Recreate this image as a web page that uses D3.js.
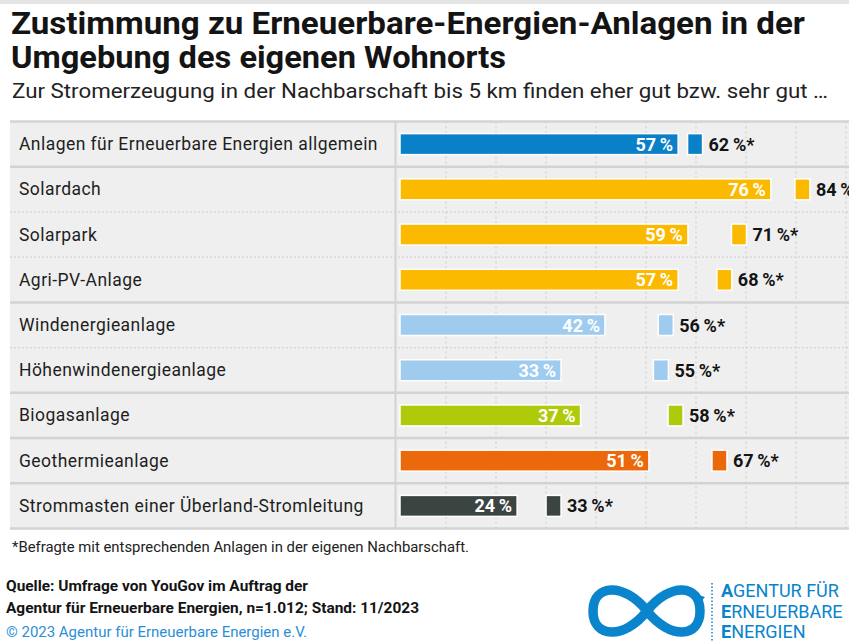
<!DOCTYPE html>
<html>
<head>
<meta charset="utf-8">
<script src="https://cdn.jsdelivr.net/npm/d3@7"></script>
<style>
  body { margin: 0; background: #fff; }
  svg { display: block; font-family: Roboto, "Noto Sans", sans-serif; }
</style>
</head>
<body>
<div id="chart"></div>
<script>
// data
const categories = [
  'Anlagen für Erneuerbare Energien allgemein',
  'Solardach',
  'Solarpark',
  'Agri-PV-Anlage',
  'Windenergieanlage',
  'Höhenwindenergieanlage',
  'Biogasanlage',
  'Geothermieanlage',
  'Strommasten einer Überland-Stromleitung'
];
const allValues = [57, 76, 59, 57, 42, 33, 37, 51, 24];          // alle Befragten
const neighbourValues = [62, 84, 71, 68, 56, 55, 58, 67, 33];    // mit Anlagen in der Nachbarschaft*
const groups = [0, 1, 1, 1, 2, 2, 3, 4, 5];
const colors = ['#0a80c8', '#fbba00', '#fbba00', '#fbba00', '#9ecbee', '#9ecbee', '#afca0b', '#eb690b', '#3c4441'];

const W = 849, H = 641;
const svg = d3.select('#chart').append('svg')
  .attr('width', W)
  .attr('height', H);

// top strip
svg.append('rect').attr('x', 0).attr('y', 0).attr('width', W).attr('height', 4).attr('fill', '#e4e4e4');

// titles
svg.append('text').attr('x', 11).attr('y', 34)
  .attr('font-size', 31).attr('font-weight', 700).attr('fill', '#141414')
  .attr('textLength', 794).attr('lengthAdjust', 'spacingAndGlyphs')
  .text('Zustimmung zu Erneuerbare-Energien-Anlagen in der');
svg.append('text').attr('x', 11).attr('y', 68)
  .attr('font-size', 31).attr('font-weight', 700).attr('fill', '#141414')
  .attr('textLength', 495).attr('lengthAdjust', 'spacingAndGlyphs')
  .text('Umgebung des eigenen Wohnorts');
svg.append('text').attr('x', 12).attr('y', 98)
  .attr('font-size', 20.5).attr('fill', '#222')
  .attr('textLength', 816).attr('lengthAdjust', 'spacingAndGlyphs')
  .text('Zur Stromerzeugung in der Nachbarschaft bis 5 km finden eher gut bzw. sehr gut …');

// scales
const y = d3.scaleBand().domain(categories).range([121.5, 528.5]);
const x = d3.scaleLinear().domain([0, 100]).range([400, 888]);
const bw = y.bandwidth();
const barH = 21;

const panelLeft = 10;
svg.append('rect')
  .attr('x', panelLeft).attr('y', y.range()[0])
  .attr('width', W - panelLeft).attr('height', y.range()[1] - y.range()[0])
  .attr('fill', '#efefef');

// vertical dotted grid
svg.append('g').selectAll('line')
  .data(d3.range(446, W, 50))
  .join('line')
  .attr('x1', d => d).attr('x2', d => d)
  .attr('y1', y.range()[0]).attr('y2', y.range()[1])
  .attr('stroke', '#cfcfcf').attr('stroke-width', 1.2).attr('stroke-dasharray', '2,3');

// row separators: solid between groups, dotted within
const seps = d3.range(1, categories.length).map(i => ({
  y: y(categories[i]),
  solid: groups[i] !== groups[i - 1]
}));
svg.append('g').selectAll('line')
  .data(seps)
  .join('line')
  .attr('x1', panelLeft).attr('x2', W)
  .attr('y1', d => d.y).attr('y2', d => d.y)
  .attr('stroke', d => d.solid ? '#d3d3d3' : '#d2d2d2')
  .attr('stroke-width', d => d.solid ? 2.5 : 1.2)
  .attr('stroke-dasharray', d => d.solid ? null : '2,2');

// panel top / bottom and column divider
[y.range()[0], y.range()[1]].forEach(v => {
  svg.append('line').attr('x1', panelLeft).attr('x2', W).attr('y1', v).attr('y2', v)
    .attr('stroke', '#d3d3d3').attr('stroke-width', 2.5);
});
svg.append('line').attr('x1', 395.5).attr('x2', 395.5)
  .attr('y1', y.range()[0]).attr('y2', y.range()[1])
  .attr('stroke', '#d3d3d3').attr('stroke-width', 2);

// category labels
svg.append('g').selectAll('text')
  .data(categories)
  .join('text')
  .attr('x', 19)
  .attr('y', d => y(d) + bw / 2 + 6)
  .attr('font-size', 17.5).attr('letter-spacing', 0.45).attr('fill', '#1e1e1e')
  .text(d => d);

const rows = categories.map((c, i) => ({ c, a: allValues[i], n: neighbourValues[i], col: colors[i] }));
const pct = v => v + '\u2009%';

// main bars
svg.append('g').selectAll('rect')
  .data(rows)
  .join('rect')
  .attr('x', x(0))
  .attr('y', d => y(d.c) + (bw - barH) / 2)
  .attr('width', d => x(d.a) - x(0))
  .attr('height', barH)
  .attr('fill', d => d.col)
  .attr('stroke', '#fff').attr('stroke-width', 1.5);

svg.append('g').selectAll('text')
  .data(rows)
  .join('text')
  .attr('x', d => x(d.a) - 5)
  .attr('y', d => y(d.c) + bw / 2 + 6.5)
  .attr('text-anchor', 'end')
  .attr('font-size', 18).attr('font-weight', 700).attr('fill', '#fff')
  .text(d => pct(d.a));

// small squares for respondents with plants nearby
const sq = 15;
svg.append('g').selectAll('rect')
  .data(rows)
  .join('rect')
  .attr('x', d => x(d.n) - sq)
  .attr('y', d => y(d.c) + (bw - barH) / 2)
  .attr('width', sq)
  .attr('height', barH)
  .attr('fill', d => d.col)
  .attr('stroke', '#fff').attr('stroke-width', 1.5);

svg.append('g').selectAll('text')
  .data(rows)
  .join('text')
  .attr('x', d => x(d.n) + 6)
  .attr('y', d => y(d.c) + bw / 2 + 6.5)
  .attr('font-size', 18).attr('font-weight', 700).attr('fill', '#141414')
  .text(d => pct(d.n) + '*');

// footer
svg.append('text').attr('x', 12).attr('y', 552)
  .attr('font-size', 14.5).attr('fill', '#222')
  .attr('textLength', 457).attr('lengthAdjust', 'spacingAndGlyphs')
  .text('*Befragte mit entsprechenden Anlagen in der eigenen Nachbarschaft.');
svg.append('text').attr('x', 6).attr('y', 591)
  .attr('font-size', 14.5).attr('font-weight', 700).attr('fill', '#141414')
  .attr('textLength', 302).attr('lengthAdjust', 'spacingAndGlyphs')
  .text('Quelle: Umfrage von YouGov im Auftrag der');
svg.append('text').attr('x', 6).attr('y', 613)
  .attr('font-size', 14.5).attr('font-weight', 700).attr('fill', '#141414')
  .attr('textLength', 413).attr('lengthAdjust', 'spacingAndGlyphs')
  .text('Agentur für Erneuerbare Energien, n=1.012; Stand: 11/2023');
svg.append('text').attr('x', 6).attr('y', 637)
  .attr('font-size', 14.5).attr('fill', '#2a8fd4')
  .attr('textLength', 301).attr('lengthAdjust', 'spacingAndGlyphs')
  .text('© 2023 Agentur für Erneuerbare Energien e.V.');

// logo
const blue = '#0a84cc';
const logo = svg.append('g');
logo.append('path')
  .attr('d', 'M647,611 C670,582 700,584 700,611 C700,638 670,640 647,611 C624,582 593,584 593,611 C593,638 624,640 647,611 Z')
  .attr('fill', 'none').attr('stroke', blue).attr('stroke-width', 9.5);
logo.append('path').attr('d', 'M695,594 L705,597 L698,605 Z').attr('fill', blue);
logo.append('line').attr('x1', 712).attr('x2', 712).attr('y1', 583).attr('y2', H)
  .attr('stroke', blue).attr('stroke-width', 1.5).attr('stroke-dasharray', '1.5,2');
const logoLines = [['A', 'GENTUR FÜR', 597], ['E', 'RNEUERBARE', 618], ['E', 'NERGIEN', 638]];
logoLines.forEach(([first, rest, by]) => {
  const t = logo.append('text').attr('x', 721).attr('y', by)
    .attr('font-size', 18).attr('fill', blue);
  t.append('tspan').attr('font-weight', 700).text(first);
  t.append('tspan').text(rest);
});
</script>
</body>
</html>
